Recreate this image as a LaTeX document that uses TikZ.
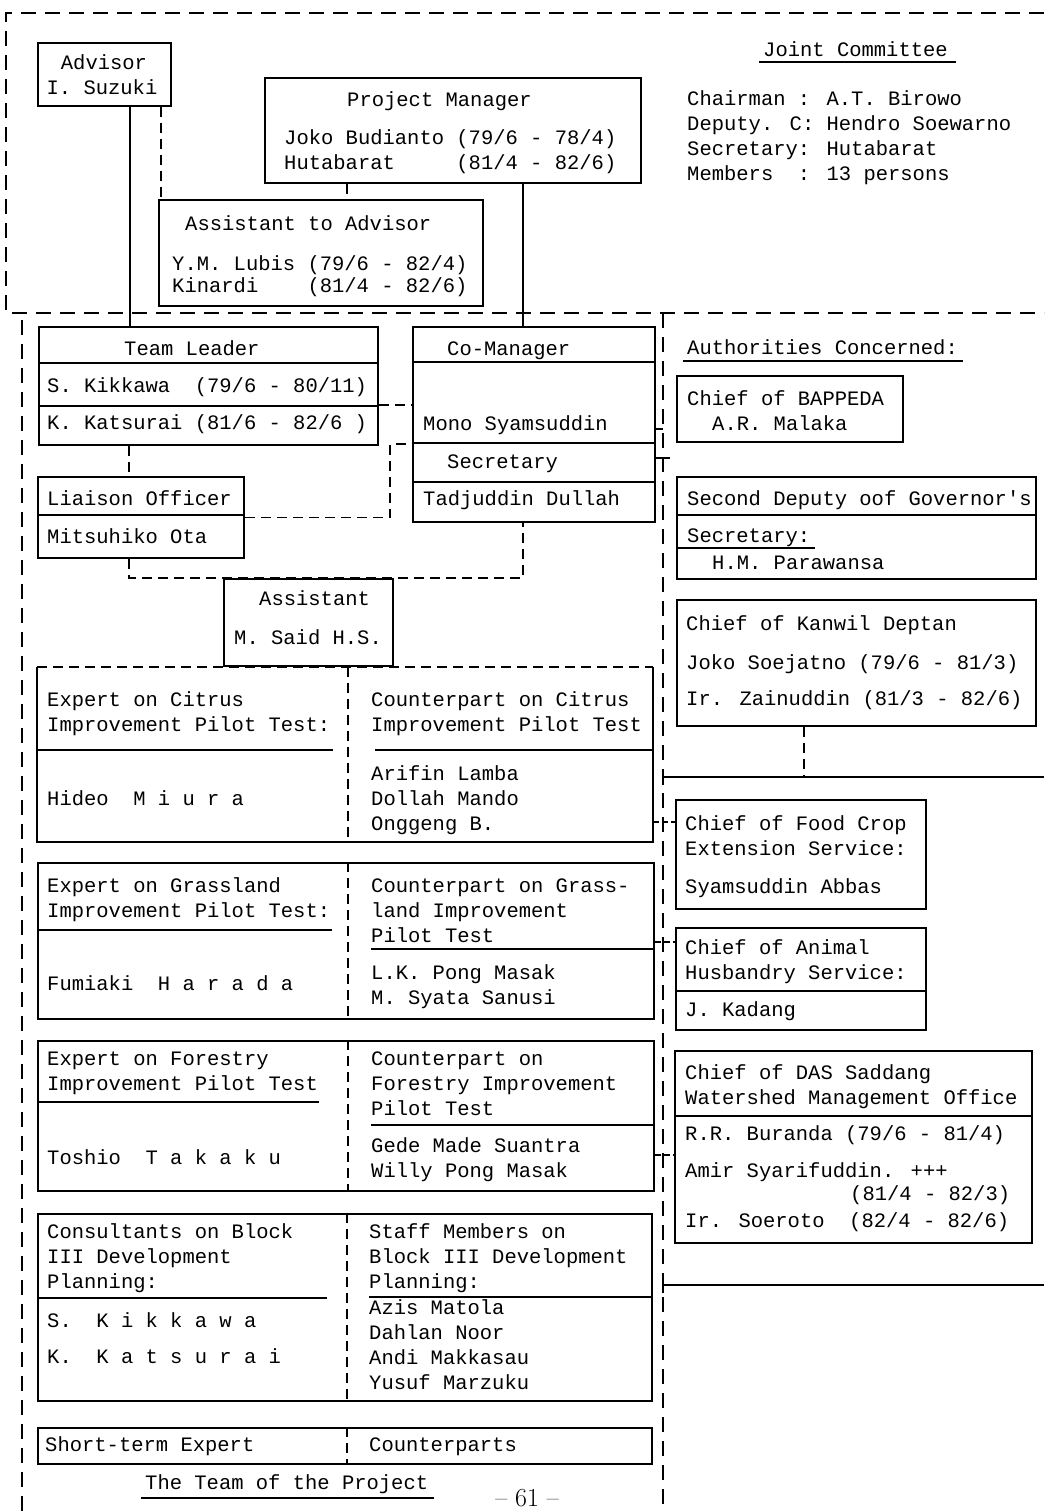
\documentclass[tikz,border=0pt]{standalone}
\usepackage{fontspec}
\newfontfamily\typew{Liberation Mono}

\begin{document}
\begin{tikzpicture}[x=1pt, y=-1pt,
                box/.style={draw, line width=2pt, anchor=north west, inner sep=0pt},
                openbox/.style={anchor=north west, inner sep=0pt},
                txt/.style={anchor=base west, inner sep=0pt, align=left, font=\typew\fontsize{20.5}{25}\selectfont},
                ctxt/.style={anchor=base, inner sep=0pt, font=\typew\fontsize{20.5}{25}\selectfont},
                rule/.style={line width=1.6pt},
                link/.style={line width=2pt},
                dlink/.style={line width=1.8pt, dash pattern=on 10pt off 6pt},
                stub/.style={line width=1.5pt, dash pattern=on 6pt off 3pt},
                region/.style={line width=2.2pt, dash pattern=on 15pt off 9pt}
            ]
            \fill[white] (0,0) rectangle (1044,1512);
            \useasboundingbox (0,0) rectangle (1044,1512);

            % dashed regions
            \draw[region] (1044,13) -- (6,13) -- (6,313) -- (1044,313);
            \draw[region] (22,320) -- (22,1512);
            \draw[region] (663,313) -- (663,1512);

            % top part
            \node[box, minimum width=133, minimum height=63] (advisor) at (37,42) {};
            \node[box, minimum width=376, minimum height=105] (pm) at (264,77) {};
            \node[box, minimum width=324, minimum height=106] (aa) at (158,199) {};

            \node[ctxt] (adv0) at (104,70) {Advisor};
            \node[ctxt] (adv1) at (102,94) {I. Suzuki};
            \node[txt] (pm0) at (347,106) {Project Manager};
            \node[txt] (pm1) at (284,169) {Joko Budianto (79/6 - 78/4)\\Hutabarat~~~~~(81/4 - 82/6)};
            \node[txt] (aa0) at (185,230) {Assistant to Advisor};
            \node[txt] (aa1) at (172,270) {Y.M. Lubis (79/6 - 82/4)};
            \node[txt] (aa2) at (172,292) {Kinardi~~~~(81/4 - 82/6)};

            \node[txt] (jc) at (763,57) {Joint Committee};
            \draw[rule] (759,62) -- (956,62);
            \node[txt] (jcl) at (687,180) {Chairman : A.T. Birowo\\Deputy. C: Hendro Soewarno\\Secretary: Hutabarat\\Members~~: 13 persons};

            \draw[dlink] (advisor.south -| 161,0) -- (aa.north -| 161,0);
            \draw[dlink] (pm.south -| 347,0) -- (aa.north -| 347,0);

            % team of the project
            \node[box, minimum width=339, minimum height=118] (tl) at (38,326) {};
            \node[box, minimum width=242, minimum height=195] (cm) at (412,326) {};
            \node[box, minimum width=206, minimum height=81] (lo) at (37,476) {};
            \node[box, minimum width=169, minimum height=87] (asst) at (223,578) {};

            \draw[link] (advisor.south -| 130,0) -- (tl.north -| 130,0);
            \draw[link] (pm.south -| 523,0) -- (cm.north -| 523,0);

            \draw[rule] (tl.west |- 0,363) -- (tl.east |- 0,363);
            \draw[rule] (tl.west |- 0,406) -- (tl.east |- 0,406);
            \draw[rule] (cm.west |- 0,362) -- (cm.east |- 0,362);
            \draw[rule] (cm.west |- 0,443) -- (cm.east |- 0,443);
            \draw[rule] (cm.west |- 0,482) -- (cm.east |- 0,482);
            \draw[rule] (lo.west |- 0,515) -- (lo.east |- 0,515);

            \node[txt] (tl0) at (124,355) {Team Leader};
            \node[txt] (tl1) at (47,392) {S. Kikkawa~~(79/6 - 80/11)};
            \node[txt] (tl2) at (47,429) {K. Katsurai (81/6 - 82/6 )};
            \node[txt] (cm0) at (447,355) {Co-Manager};
            \node[txt] (cm1) at (423,430) {Mono Syamsuddin};
            \node[txt] (cm2) at (447,468) {Secretary};
            \node[txt] (cm3) at (423,505) {Tadjuddin Dullah};
            \node[txt] (lo0) at (47,505) {Liaison Officer};
            \node[txt] (lo1) at (47,543) {Mitsuhiko Ota};
            \node[txt] (as0) at (259,605) {Assistant};
            \node[txt] (as1) at (234,644) {M. Said H.S.};

            \draw[dlink] (tl.east |- 0,405) -- (cm.west |- 0,405);
            \draw[dlink] (tl.south -| 129,0) -- (lo.north -| 129,0);
            \draw[dlink] (lo.east) -| (390,444) -- (cm.west |- 0,444);
            \draw[dlink] (lo.south -| 129,0) |- (asst.north west) -- (asst.north east) -| (cm.south -| 523,0);

            % citrus
            \node[openbox, minimum width=616, minimum height=175] (citrus) at (37,667) {};
            \draw[link] (citrus.north west) -- (citrus.south west) -- (citrus.south east) -- (citrus.north east);
            \draw[dlink] (citrus.north west) -- (citrus.north east);
            \draw[dlink] (citrus.north -| 348,0) -- (citrus.south -| 348,0);
            \draw[rule] (citrus.west |- 0,750) -- (333,750);
            \draw[rule] (375,750) -- (citrus.east |- 0,750);
            \node[txt] (ci0) at (47,731) {Expert on Citrus\\Improvement Pilot Test:};
            \node[txt] (ci1) at (47,805) {Hideo~~M~i~u~r~a};
            \node[txt] (ci2) at (371,731) {Counterpart on Citrus\\Improvement Pilot Test};
            \node[txt] (ci3) at (371,830) {Arifin Lamba\\Dollah Mando\\Onggeng B.};

            % grassland
            \node[box, minimum width=616, minimum height=156] (grass) at (37,862) {};
            \draw[dlink] (grass.north -| 348,0) -- (grass.south -| 348,0);
            \draw[rule] (grass.west |- 0,930) -- (332,930);
            \draw[rule] (371,949) -- (grass.east |- 0,949);
            \node[txt] (gr0) at (47,917) {Expert on Grassland\\Improvement Pilot Test:};
            \node[txt] (gr1) at (47,990) {Fumiaki~~H~a~r~a~d~a};
            \node[txt] (gr2) at (371,942) {Counterpart on Grass-\\land Improvement\\Pilot Test};
            \node[txt] (gr3) at (371,1004) {L.K. Pong Masak\\M. Syata Sanusi};

            % forestry
            \node[box, minimum width=616, minimum height=150] (forest) at (37,1040) {};
            \draw[dlink] (forest.north -| 348,0) -- (forest.south -| 348,0);
            \draw[rule] (forest.west |- 0,1102) -- (319,1102);
            \draw[rule] (371,1125) -- (forest.east |- 0,1125);
            \node[txt] (fo0) at (47,1090) {Expert on Forestry\\Improvement Pilot Test};
            \node[txt] (fo1) at (47,1164) {Toshio~~T~a~k~a~k~u};
            \node[txt] (fo2) at (371,1115) {Counterpart on\\Forestry Improvement\\Pilot Test};
            \node[txt] (fo3) at (371,1177) {Gede Made Suantra\\Willy Pong Masak};

            % block III
            \node[box, minimum width=614, minimum height=187] (block) at (37,1213) {};
            \draw[dlink] (block.north -| 347,0) -- (block.south -| 347,0);
            \draw[rule] (block.west |- 0,1298) -- (327,1298);
            \draw[rule] (369,1297) -- (block.east |- 0,1297);
            \node[txt] (bl0) at (47,1288) {Consultants on Block\\III Development\\Planning:};
            \node[txt] (bl1) at (47,1327) {S.~~K~i~k~k~a~w~a};
            \node[txt] (bl2) at (47,1363) {K.~~K~a~t~s~u~r~a~i};
            \node[txt] (bl3) at (369,1288) {Staff Members on\\Block III Development\\Planning:};
            \node[txt] (bl4) at (369,1389) {Azis Matola\\Dahlan Noor\\Andi Makkasau\\Yusuf Marzuku};

            % short-term
            \node[box, minimum width=614, minimum height=36] (short) at (37,1427) {};
            \draw[dlink] (short.north -| 347,0) -- (short.south -| 347,0);
            \node[txt] (sh0) at (45,1451) {Short-term Expert};
            \node[txt] (sh1) at (369,1451) {Counterparts};

            \node[txt] (title) at (145,1489) {The Team of the Project};
            \draw[rule] (141,1498) -- (434,1498);
            \node[anchor=base, inner sep=0pt, font=\fontsize{26}{30}\selectfont] (page) at (527,1506) {-- 61 --};

            % authorities concerned
            \node[txt] (ac) at (687,354) {Authorities Concerned:};
            \draw[rule] (683,361) -- (963,361);

            \node[box, minimum width=226, minimum height=66] (bappeda) at (676,375) {};
            \node[txt] (bp0) at (687,405) {Chief of BAPPEDA};
            \node[txt] (bp1) at (712,430) {A.R. Malaka};

            \node[box, minimum width=359, minimum height=102] (deputy) at (676,476) {};
            \draw[rule] (deputy.west |- 0,515) -- (deputy.east |- 0,515);
            \draw[rule] (deputy.west |- 0,548) -- (815,548);
            \node[txt] (dp0) at (687,505) {Second Deputy oof Governor's};
            \node[txt] (dp1) at (687,542) {Secretary:};
            \node[txt] (dp2) at (712,569) {H.M. Parawansa};

            \node[box, minimum width=359, minimum height=126] (kanwil) at (676,599) {};
            \node[txt] (kw0) at (686,630) {Chief of Kanwil Deptan};
            \node[txt] (kw1) at (686,669) {Joko Soejatno (79/6 - 81/3)};
            \node[txt] (kw2) at (686,705) {Ir. Zainuddin (81/3 - 82/6)};

            \node[box, minimum width=250, minimum height=109] (food) at (675,799) {};
            \node[txt] (fc0) at (685,855) {Chief of Food Crop\\Extension Service:};
            \node[txt] (fc1) at (685,893) {Syamsuddin Abbas};

            \node[box, minimum width=250, minimum height=102] (animal) at (675,927) {};
            \draw[rule] (animal.west |- 0,991) -- (animal.east |- 0,991);
            \node[txt] (ah0) at (685,979) {Chief of Animal\\Husbandry Service:};
            \node[txt] (ah1) at (685,1016) {J. Kadang};

            \node[box, minimum width=357, minimum height=192] (das) at (674,1050) {};
            \draw[rule] (das.west |- 0,1116) -- (das.east |- 0,1116);
            \node[txt] (da0) at (685,1104) {Chief of DAS Saddang\\Watershed Management Office};
            \node[txt] (da1) at (685,1140) {R.R. Buranda (79/6 - 81/4)};
            \node[txt] (da2) at (685,1177) {Amir Syarifuddin. +++};
            \node[txt] (da3) at (850,1200) {(81/4 - 82/3)};
            \node[txt] (da4) at (685,1227) {Ir. Soeroto~~(82/4 - 82/6)};

            % links across
            \draw[link] (cm.east |- 0,429) -- (663,429);
            \draw[link] (cm.east |- 0,458) -- (670,458);
            \draw[dlink] (kanwil.south -| 804,0) -- (804,777);
            \draw[link] (663,769) -- (663,785);
            \draw[link] (663,777) -- (1044,777);
            \draw[link] (663,1277) -- (663,1293);
            \draw[link] (663,1285) -- (1044,1285);
            \draw[stub] (citrus.east |- 0,822) -- (food.west |- 0,822);
            \draw[stub] (grass.east |- 0,942) -- (animal.west |- 0,942);
            \draw[stub] (forest.east |- 0,1155) -- (das.west |- 0,1155);
            \end{tikzpicture}
\end{document}
